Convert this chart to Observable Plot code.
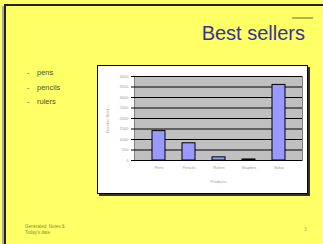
<!DOCTYPE html>
<html><head><meta charset="utf-8">
<script src="https://cdn.jsdelivr.net/npm/d3@7"></script>
<script src="https://cdn.jsdelivr.net/npm/@observablehq/plot@0.6"></script>
<style>
html,body{margin:0;padding:0;background:#fff;}
#slide{position:absolute;left:0;top:0;width:323px;height:244px;background:#ffff66;overflow:hidden;font-family:"Liberation Sans",Arial,sans-serif;}
#frameL{position:absolute;left:4px;top:4px;width:2px;height:240px;background:#222;}
#frameT{position:absolute;left:4px;top:4px;width:319px;height:2px;background:#222;}
#shadowL{position:absolute;left:2px;top:6px;width:2px;height:238px;background:#aaa;}
#title{position:absolute;right:18px;top:22px;font-size:20px;color:#333399;white-space:nowrap;}
#mark{position:absolute;left:292px;top:17px;width:21px;height:1.5px;background:#b3b34d;}
#bullets{position:absolute;left:27px;top:66px;font-size:7.5px;color:#555522;line-height:14.5px;}
#bullets div::before{content:"-";display:inline-block;width:10px;}
#chart{position:absolute;left:97px;top:65px;}
#chart svg{display:block;background:#fff;border:1px solid #000;box-shadow:2px 2px 0 #333;}
#footer{position:absolute;left:25px;top:224px;font-size:4.5px;color:#8a8a44;line-height:6px;}
#num{position:absolute;left:304px;top:226px;font-size:5px;color:#aaaa66;}
</style></head>
<body>
<div id="slide">
  <div id="shadowL"></div><div id="frameL"></div><div id="frameT"></div>
  <div id="mark"></div>
  <div id="title">Best sellers</div>
  <div id="bullets"></div>
  <div id="chart"></div>
  <div id="footer">Generated: Notes &amp;<br>Today's date</div>
  <div id="num">3</div>
</div>
<script>
const bulletItems = ["pens", "pencils", "rulers"];
const products = ["Pens", "Pencils", "Rulers", "Staplers", "Sofas"];
const sold = [1400, 820, 150, 50, 3600];
const yTicks = [0, 500, 1000, 1500, 2000, 2500, 3000, 3500, 4000];

const bl = document.getElementById("bullets");
for (const b of bulletItems) { const d = document.createElement("div"); d.textContent = b; bl.appendChild(d); }

const data = products.map((p, i) => ({product: p, sold: sold[i]}));

const chart = Plot.plot({
  width: 209, height: 127,
  marginLeft: 36, marginRight: 5, marginTop: 10, marginBottom: 33,
  style: {fontFamily: "Liberation Sans, Arial, sans-serif", fontSize: "4px", color: "#888", background: "#fff"},
  x: {domain: products, padding: 0.58},
  y: {domain: [0, 4000]},
  marks: [
    Plot.frame({fill: "#c0c0c0", stroke: "#808080"}),
    Plot.gridY(yTicks, {stroke: "#000", strokeOpacity: 1, strokeWidth: 1}),
    Plot.barY(data, {x: "product", y: "sold", fill: "#9999ff", stroke: "#000", strokeWidth: 1}),
    Plot.ruleY([0], {stroke: "#000", strokeWidth: 1.2}),
    Plot.axisY(yTicks, {stroke: "#000", tickSize: 3, tickPadding: 3, tickFormat: d3.format("d"), fill: "#999", label: "Number Sold", labelAnchor: "center", labelOffset: 28}),
    Plot.axisX({fill: "#999", tickSize: 0, tickPadding: 6, label: "Products", labelAnchor: "center", labelOffset: 22})
  ]
});
document.getElementById("chart").appendChild(chart);
</script>
</body></html>
